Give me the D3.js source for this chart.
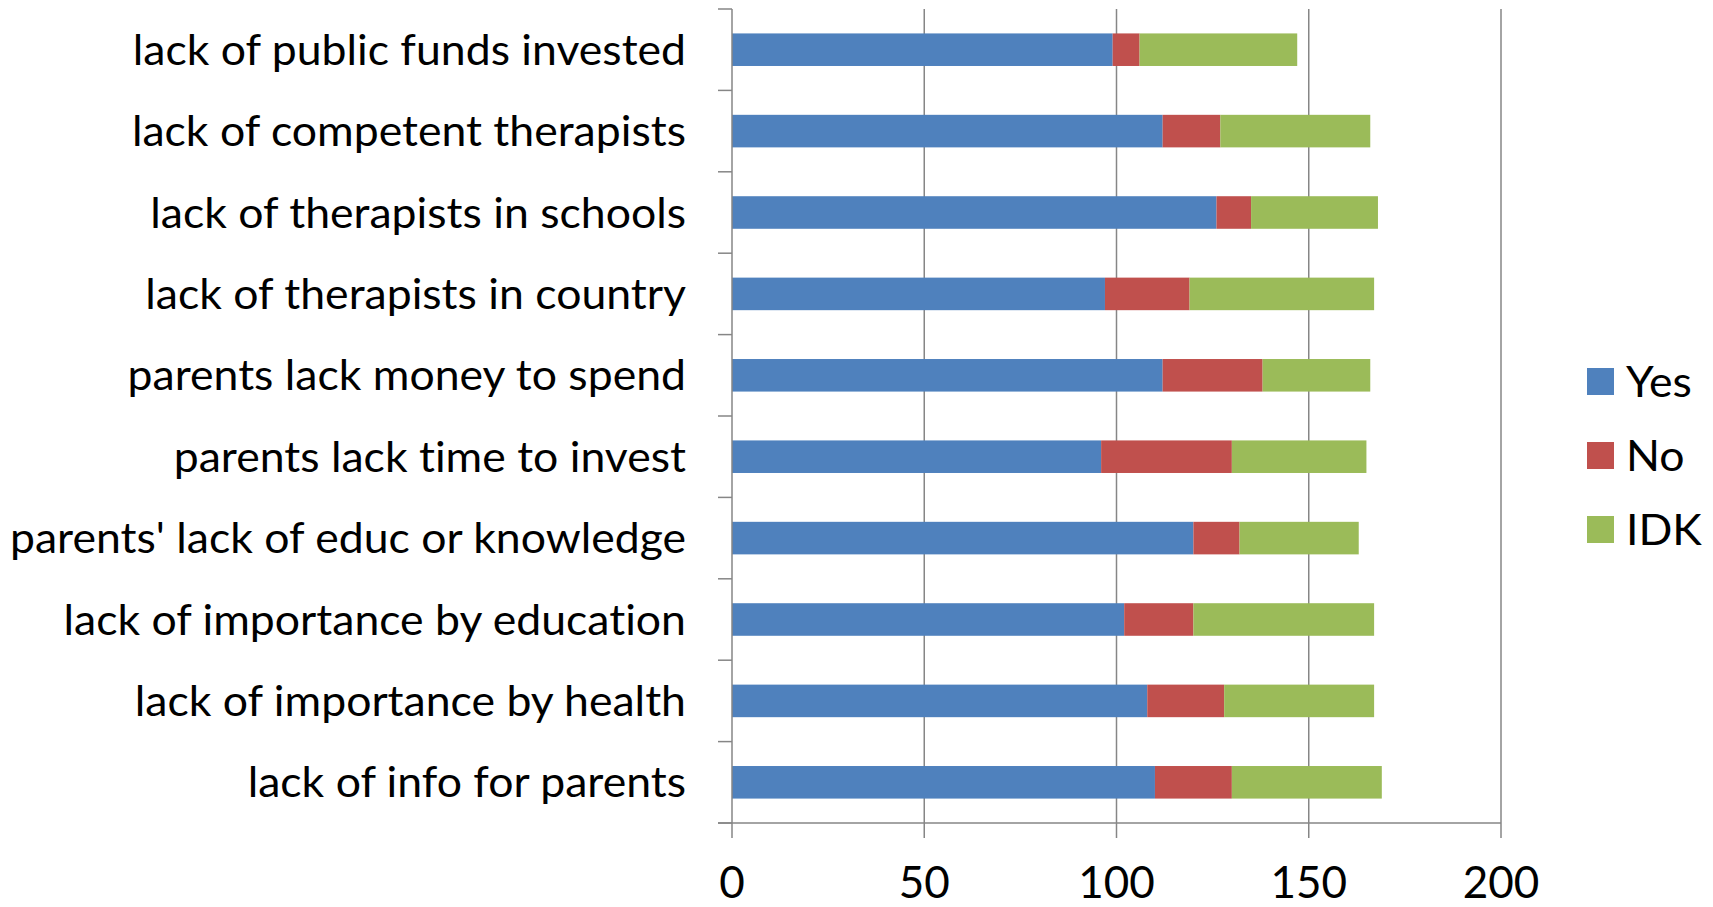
<!DOCTYPE html>
<html>
<head>
<meta charset="utf-8">
<script src="https://cdn.jsdelivr.net/npm/d3@7"></script>
<style>
  html, body { margin: 0; padding: 0; background: #fff; }
  svg { display: block; font-family: Lato, "Open Sans", sans-serif; font-variant-ligatures: none; }
</style>
</head>
<body>
<svg id="chart" width="1713" height="907"></svg>
<script>
'use strict';

// categories, top to bottom
var categories = [
    "lack of public funds invested",
    "lack of competent therapists",
    "lack of therapists in schools",
    "lack of therapists in country",
    "parents lack money to spend",
    "parents lack time to invest",
    "parents' lack of educ or knowledge",
    "lack of importance by education",
    "lack of importance by health",
    "lack of info for parents"
];
var yesValues = [99, 112, 126, 97, 112, 96, 120, 102, 108, 110];
var noValues  = [7, 15, 9, 22, 26, 34, 12, 18, 20, 20];
var idkValues = [41, 39, 33, 48, 28, 35, 31, 47, 39, 39];
var seriesNames = ["Yes", "No", "IDK"];
var xTicks = [0, 50, 100, 150, 200];

var colors = {Yes: "#4f81bd", No: "#c0504d", IDK: "#9bbb59"};
var gridColor = "#868686";

var svg = d3.select("#chart");
var plotLeft = 732, plotRight = 1501, plotTop = 9, plotBottom = 823;

// build rows for the stack layout
var rows = categories.map(function (c, i) {
    return {cat: c, Yes: yesValues[i], No: noValues[i], IDK: idkValues[i]};
});
var stacked = d3.stack().keys(seriesNames)(rows);

var x = d3.scaleLinear().domain([0, 200]).range([plotLeft, plotRight]);
var y = d3.scaleBand()
    .domain(categories)
    .range([plotTop, plotBottom])
    .paddingInner(0.6)
    .paddingOuter(0.3);

//gridlines (they run a bit below the axis, like tick marks)
svg.append("g").selectAll("line")
    .data(xTicks.slice(1))
    .enter()
    .append("line")
    .attr("x1", function (d) { return x(d); })
    .attr("x2", function (d) { return x(d); })
    .attr("y1", plotTop)
    .attr("y2", plotBottom + 15)
    .attr("stroke", gridColor)
    .attr("stroke-width", 1.5);

// bars
svg.append("g").selectAll("g")
    .data(stacked)
    .enter()
    .append("g")
    .attr("fill", function (d) { return colors[d.key]; })
    .selectAll("rect")
    .data(function (d) { return d; })
    .enter()
    .append("rect")
    .attr("x", function (d) { return x(d[0]); })
    .attr("width", function (d) { return x(d[1]) - x(d[0]); })
    .attr("y", function (d) { return y(d.data.cat); })
    .attr("height", y.bandwidth());

// y axis line + ticks on band edges
var step = y.step();
var edges = d3.range(categories.length + 1).map(function (i) {
    return plotTop + i * step;
});
svg.append("line")
    .attr("x1", plotLeft).attr("x2", plotLeft)
    .attr("y1", plotTop).attr("y2", plotBottom + 15)
    .attr("stroke", gridColor).attr("stroke-width", 1.5);
svg.append("g").selectAll("line")
    .data(edges)
    .enter()
    .append("line")
    .attr("x1", plotLeft - 14).attr("x2", plotLeft)
    .attr("y1", function (d) { return d; })
    .attr("y2", function (d) { return d; })
    .attr("stroke", gridColor).attr("stroke-width", 1.5);

// x axis line
svg.append("line")
    .attr("x1", plotLeft - 14).attr("x2", plotRight)
    .attr("y1", plotBottom).attr("y2", plotBottom)
    .attr("stroke", gridColor).attr("stroke-width", 1.5);

// x tick labels
svg.append("g").selectAll("text")
    .data(xTicks)
    .enter()
    .append("text")
    .attr("x", function (d) { return x(d); })
    .attr("y", 898)
    .attr("text-anchor", "middle")
    .attr("font-size", 44)
    .attr("fill", "#000")
    .text(function (d) { return d; });

// category labels
var labels = svg.append("g").selectAll("text")
    .data(categories)
    .enter()
    .append("text")
    .attr("x", 686)
    .attr("y", function (d) { return y(d) + y.bandwidth() / 2; })
    .attr("dy", "0.36em")
    .attr("text-anchor", "end")
    .attr("font-size", 42)
    .attr("fill", "#000")
    .text(function (d) { return d; });

// squeeze labels a little so the longest one fits the same width as the original
var widest = 0;
labels.each(function () { widest = Math.max(widest, this.getComputedTextLength()); });
var k = 676 / widest;
function squeeze(sel) {
    sel.each(function () {
        var w = this.getComputedTextLength();
        d3.select(this)
            .attr("textLength", w * k)
            .attr("lengthAdjust", "spacingAndGlyphs");
    });
}
squeeze(labels);

// legend
var legend = svg.append("g").selectAll("g")
    .data(seriesNames)
    .enter()
    .append("g")
    .attr("transform", function (d, i) {
        return "translate(1587," + (368 + i * 74) + ")";
    });
legend.append("rect")
    .attr("width", 27)
    .attr("height", 27)
    .attr("fill", function (d) { return colors[d]; });
var legendText = legend.append("text")
    .attr("x", 39)
    .attr("y", 13.5)
    .attr("dy", "0.36em")
    .attr("font-size", 42)
    .attr("fill", "#000")
    .text(function (d) { return d; });
squeeze(legendText);
</script>
</body>
</html>
